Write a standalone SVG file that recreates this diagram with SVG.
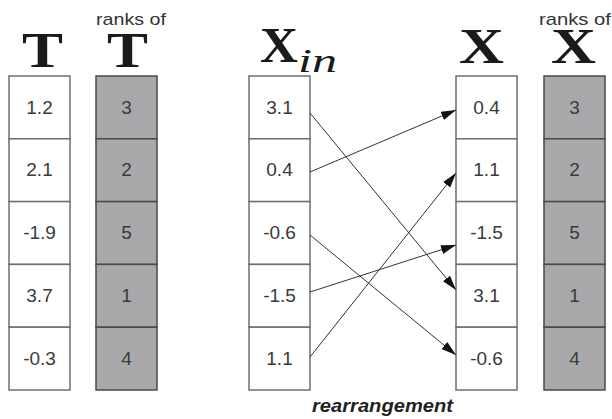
<svg xmlns="http://www.w3.org/2000/svg" width="612" height="419" viewBox="0 0 612 419">
<defs>
<style>
.cell{fill:#fff;stroke:#6f6f6f;stroke-width:1.5}
.gcell{fill:#a9a9ab;stroke:#4a4a4a;stroke-width:1.5}
.num{font-family:"Liberation Sans",Arial,sans-serif;font-size:19px;fill:#3a3a3a;text-anchor:middle}
.big{font-family:"Liberation Serif","Times New Roman",serif;font-weight:bold;font-size:50px;fill:#1a1a1a}
.lbl{font-family:"Liberation Sans",Arial,sans-serif;font-size:17px;fill:#333}
.edge{stroke:#333;stroke-width:1;fill:none;marker-end:url(#ah)}
</style>
<marker id="ah" markerUnits="userSpaceOnUse" markerWidth="16" markerHeight="10" refX="15" refY="4.5" orient="auto">
<path d="M0,0 L15,4.5 L0,9 z" fill="#111"/>
</marker>
</defs>
<rect width="612" height="419" fill="#fff"/>

<g id="header">
<text class="big" x="22" y="67" textLength="41" lengthAdjust="spacingAndGlyphs">T</text>
<text class="lbl" x="96" y="25" textLength="70" lengthAdjust="spacingAndGlyphs">ranks of</text>
<text class="big" x="107" y="67" textLength="41" lengthAdjust="spacingAndGlyphs">T</text>
<text class="big" x="260" y="62" textLength="38" lengthAdjust="spacingAndGlyphs">X</text>
<text x="298" y="72" font-family="'Liberation Serif','Times New Roman',serif" font-style="italic" font-size="34" fill="#1a1a1a" textLength="39" lengthAdjust="spacingAndGlyphs">in</text>
<text class="big" x="459" y="63" textLength="45" lengthAdjust="spacingAndGlyphs">X</text>
<text class="lbl" x="539" y="25" textLength="72" lengthAdjust="spacingAndGlyphs">ranks of</text>
<text class="big" x="551" y="63" textLength="45" lengthAdjust="spacingAndGlyphs">X</text>
</g>

<g id="T">
<rect class="cell" x="9" y="76" width="61" height="62.8"/>
<rect class="cell" x="9" y="138.8" width="61" height="62.8"/>
<rect class="cell" x="9" y="201.6" width="61" height="62.8"/>
<rect class="cell" x="9" y="264.4" width="61" height="62.8"/>
<rect class="cell" x="9" y="327.2" width="61" height="62.8"/>
<text class="num" x="39.5" y="113.5">1.2</text>
<text class="num" x="39.5" y="176.3">2.1</text>
<text class="num" x="39.5" y="239.1">-1.9</text>
<text class="num" x="39.5" y="301.9">3.7</text>
<text class="num" x="39.5" y="364.7">-0.3</text>
</g>

<g id="ranksT">
<rect class="gcell" x="96" y="76" width="61" height="62.8"/>
<rect class="gcell" x="96" y="138.8" width="61" height="62.8"/>
<rect class="gcell" x="96" y="201.6" width="61" height="62.8"/>
<rect class="gcell" x="96" y="264.4" width="61" height="62.8"/>
<rect class="gcell" x="96" y="327.2" width="61" height="62.8"/>
<text class="num" x="126.5" y="113.5">3</text>
<text class="num" x="126.5" y="176.3">2</text>
<text class="num" x="126.5" y="239.1">5</text>
<text class="num" x="126.5" y="301.9">1</text>
<text class="num" x="126.5" y="364.7">4</text>
</g>

<g id="Xin">
<rect class="cell" x="249" y="76" width="61" height="62.8"/>
<rect class="cell" x="249" y="138.8" width="61" height="62.8"/>
<rect class="cell" x="249" y="201.6" width="61" height="62.8"/>
<rect class="cell" x="249" y="264.4" width="61" height="62.8"/>
<rect class="cell" x="249" y="327.2" width="61" height="62.8"/>
<text class="num" x="279.5" y="113.5">3.1</text>
<text class="num" x="279.5" y="176.3">0.4</text>
<text class="num" x="279.5" y="239.1">-0.6</text>
<text class="num" x="279.5" y="301.9">-1.5</text>
<text class="num" x="279.5" y="364.7">1.1</text>
</g>

<g id="X">
<rect class="cell" x="456" y="76" width="61" height="62.8"/>
<rect class="cell" x="456" y="138.8" width="61" height="62.8"/>
<rect class="cell" x="456" y="201.6" width="61" height="62.8"/>
<rect class="cell" x="456" y="264.4" width="61" height="62.8"/>
<rect class="cell" x="456" y="327.2" width="61" height="62.8"/>
<text class="num" x="486.5" y="113.5">0.4</text>
<text class="num" x="486.5" y="176.3">1.1</text>
<text class="num" x="486.5" y="239.1">-1.5</text>
<text class="num" x="486.5" y="301.9">3.1</text>
<text class="num" x="486.5" y="364.7">-0.6</text>
</g>

<g id="ranksX">
<rect class="gcell" x="544" y="76" width="61" height="62.8"/>
<rect class="gcell" x="544" y="138.8" width="61" height="62.8"/>
<rect class="gcell" x="544" y="201.6" width="61" height="62.8"/>
<rect class="gcell" x="544" y="264.4" width="61" height="62.8"/>
<rect class="gcell" x="544" y="327.2" width="61" height="62.8"/>
<text class="num" x="574.5" y="113.5">3</text>
<text class="num" x="574.5" y="176.3">2</text>
<text class="num" x="574.5" y="239.1">5</text>
<text class="num" x="574.5" y="301.9">1</text>
<text class="num" x="574.5" y="364.7">4</text>
</g>

<g id="connectors">
<line class="edge" x1="310" y1="113" x2="456" y2="290"/>
<line class="edge" x1="310" y1="172" x2="456" y2="110"/>
<line class="edge" x1="310" y1="235" x2="456" y2="355"/>
<line class="edge" x1="310" y1="292" x2="456" y2="245"/>
<line class="edge" x1="310" y1="357" x2="456" y2="173"/>
</g>

<g id="caption">
<text x="312" y="412" font-family="'Liberation Sans',Arial,sans-serif" font-weight="bold" font-style="italic" font-size="18" fill="#222" textLength="141" lengthAdjust="spacingAndGlyphs">rearrangement</text>
</g>
</svg>
